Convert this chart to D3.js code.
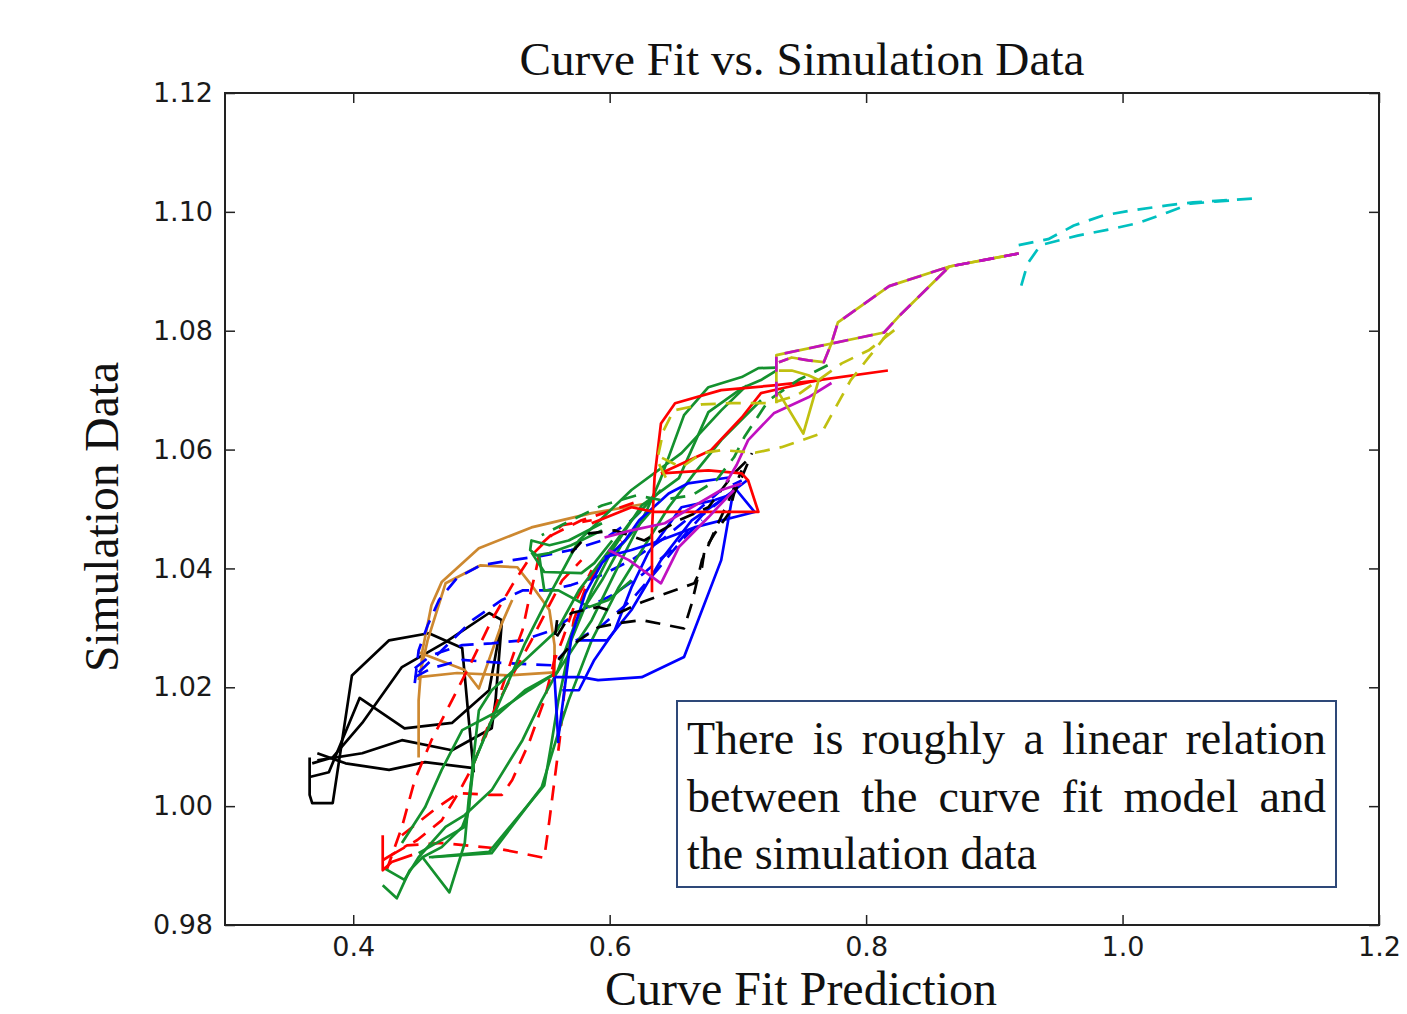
<!DOCTYPE html>
<html><head><meta charset="utf-8">
<script src="https://cdn.jsdelivr.net/npm/d3@7"></script>
<style>body{margin:0;background:#fff;} svg{display:block;}</style>
</head><body>
<svg id="chart" width="1407" height="1014"></svg>
<script>
// ---------------- data (x = curve fit prediction, y = simulation data) ----------------
const xTicks = [0.4, 0.6, 0.8, 1.0, 1.2];
const yTicks = [0.98, 1.00, 1.02, 1.04, 1.06, 1.08, 1.10, 1.12];

const cyanA = [[0.919,1.0944],[0.942,1.0954],[0.962,1.0977],[0.985,1.0994],[1.009,1.1003],[1.035,1.1011],[1.055,1.1016],[1.106,1.1023]];
const cyanB = [[0.921,1.0876],[0.926,1.0913],[0.936,1.0944],[0.965,1.0960],[0.991,1.0971],[1.012,1.0981],[1.035,1.0999],[1.053,1.1014],[1.084,1.1019]];

const topA = [[0.919,1.0930],[0.865,1.0908],[0.818,1.0875],[0.778,1.0814],[0.773,1.0779],[0.767,1.0747],[0.755,1.0750],[0.742,1.0755],[0.732,1.0747]];
const topB = [[0.919,1.0930],[0.865,1.0908],[0.825,1.0823],[0.814,1.0797],[0.730,1.0759],[0.730,1.0678]];
const yellowLoop = [[0.732,1.0695],[0.751,1.0627],[0.763,1.0717],[0.755,1.0725],[0.742,1.0733],[0.732,1.0733]];
const yellowDashA = [[0.822,1.0801],[0.802,1.0767],[0.781,1.0745],[0.763,1.0717],[0.746,1.0691],[0.726,1.0678],[0.695,1.0678],[0.672,1.0676],[0.650,1.0666],[0.642,1.0632],[0.637,1.0582],[0.644,1.0552]];
const yellowDashB = [[0.817,1.0796],[0.802,1.0755],[0.788,1.0717],[0.775,1.0666],[0.765,1.0627],[0.734,1.0604],[0.714,1.0595],[0.687,1.0599],[0.672,1.0594],[0.656,1.0570],[0.637,1.0590]];

const greenDash = [[0.770,1.0742],[0.747,1.0717],[0.724,1.0683],[0.705,1.0621],[0.697,1.0587],[0.683,1.0548],[0.664,1.0523],[0.640,1.0515],[0.621,1.0523],[0.594,1.0506],[0.570,1.0481],[0.547,1.0456]];

const redA = [[0.633,1.0360],[0.633,1.0464],[0.635,1.0553],[0.640,1.0644],[0.651,1.0678],[0.687,1.0700],[0.728,1.0708],[0.765,1.0717]];
const redB = [[0.640,1.0560],[0.679,1.0599],[0.703,1.0654],[0.718,1.0695],[0.763,1.0717],[0.817,1.0733]];
const redLoop = [[0.586,1.0476],[0.617,1.0503],[0.635,1.0495],[0.674,1.0495],[0.716,1.0495],[0.708,1.0548],[0.703,1.0560],[0.677,1.0565],[0.640,1.0560]];
const redLow = [[0.423,0.9951],[0.423,0.9892],[0.430,0.9906],[0.446,0.9918]];
const redSpike = [[0.556,1.0217],[0.557,1.0254]];

const magA = [[0.773,1.0712],[0.755,1.0688],[0.728,1.0661],[0.708,1.0616],[0.699,1.0574],[0.691,1.0545]];
const magB = [[0.596,1.0452],[0.617,1.0464],[0.643,1.0476],[0.687,1.0532],[0.703,1.0543]];
const magC = [[0.599,1.0431],[0.615,1.0414],[0.640,1.0375],[0.654,1.0436],[0.677,1.0486],[0.697,1.0532]];

const blueA = [[0.560,1.0106],[0.557,1.0217],[0.578,1.0217],[0.591,1.0212],[0.625,1.0217],[0.658,1.0251],[0.687,1.0414],[0.697,1.0537],[0.713,1.0495],[0.666,1.0469],[0.633,1.0442],[0.617,1.0431],[0.596,1.0419]];
const blueB = [[0.563,1.0195],[0.576,1.0195],[0.588,1.0246],[0.604,1.0296],[0.617,1.0368],[0.630,1.0426],[0.656,1.0503],[0.682,1.0515],[0.697,1.0526]];
const blueC = [[0.560,1.0116],[0.570,1.0284],[0.581,1.0358],[0.594,1.0409],[0.612,1.0447],[0.623,1.0481],[0.646,1.0526],[0.661,1.0543],[0.693,1.0553]];
const blueD = [[0.574,1.0279],[0.598,1.0279],[0.617,1.0330],[0.640,1.0414],[0.664,1.0481],[0.687,1.0515],[0.707,1.0548]];

const blueDashA = [[0.448,1.0207],[0.451,1.0262],[0.458,1.0304],[0.467,1.0347],[0.481,1.0384],[0.499,1.0405],[0.524,1.0414],[0.547,1.0421],[0.570,1.0431],[0.594,1.0447],[0.617,1.0481],[0.633,1.0515]];
const blueDashB = [[0.448,1.0217],[0.461,1.0232],[0.485,1.0246],[0.516,1.0241],[0.555,1.0237],[0.574,1.0279],[0.594,1.0304],[0.617,1.0347],[0.637,1.0397],[0.656,1.0447],[0.672,1.0481]];
const blueDashC = [[0.448,1.0232],[0.461,1.0254],[0.485,1.0271],[0.508,1.0274],[0.532,1.0279],[0.555,1.0296],[0.578,1.0330],[0.602,1.0355],[0.625,1.0389],[0.648,1.0431],[0.672,1.0489],[0.687,1.0515]];
const blueDashD = [[0.451,1.0225],[0.469,1.0262],[0.493,1.0313],[0.516,1.0347],[0.532,1.0363],[0.551,1.0363],[0.570,1.0372],[0.594,1.0389],[0.617,1.0414],[0.640,1.0447],[0.664,1.0489],[0.687,1.0532],[0.703,1.0548]];

const blackA = [[0.366,1.0082],[0.366,1.0019],[0.368,1.0005],[0.384,1.0005],[0.399,1.0220],[0.428,1.0279],[0.459,1.0291],[0.485,1.0266],[0.490,1.0148],[0.494,1.0057]];
const blackB = [[0.366,1.0049],[0.381,1.0057],[0.405,1.0182],[0.440,1.0131],[0.477,1.0140],[0.506,1.0195],[0.516,1.0313]];
const blackC = [[0.368,1.0072],[0.384,1.0082],[0.407,1.0140],[0.438,1.0234],[0.472,1.0276],[0.506,1.0325],[0.516,1.0313],[0.511,1.0178],[0.508,1.0131],[0.477,1.0094],[0.438,1.0111],[0.407,1.0089],[0.372,1.0077]];
const blackD = [[0.372,1.0089],[0.394,1.0072],[0.428,1.0061],[0.456,1.0074],[0.494,1.0064]];

const blackDashA = [[0.559,1.0313],[0.557,1.0279],[0.570,1.0325],[0.591,1.0335],[0.607,1.0325],[0.625,1.0343],[0.640,1.0355],[0.666,1.0375],[0.672,1.0402],[0.674,1.0431],[0.682,1.0459],[0.693,1.0493],[0.697,1.0526],[0.703,1.0553],[0.711,1.0594]];
const blackDashB = [[0.560,1.0246],[0.568,1.0267],[0.591,1.0301],[0.607,1.0308],[0.625,1.0313],[0.658,1.0299],[0.664,1.0341],[0.672,1.0414],[0.682,1.0464],[0.693,1.0515],[0.703,1.0565]];
const blackDashC = [[0.570,1.0426],[0.584,1.0459],[0.604,1.0464],[0.627,1.0447],[0.654,1.0481],[0.677,1.0503],[0.697,1.0560],[0.711,1.0590]];

const orangeA = [[0.451,1.0082],[0.451,1.0178],[0.454,1.0262],[0.461,1.0338],[0.469,1.0377],[0.498,1.0434],[0.539,1.0469],[0.586,1.0493],[0.631,1.0510]];
const orangeB = [[0.451,1.0212],[0.458,1.0279],[0.472,1.0375],[0.499,1.0405],[0.528,1.0402],[0.539,1.0372],[0.553,1.0330],[0.557,1.0271],[0.557,1.0225],[0.521,1.0220],[0.481,1.0224],[0.451,1.0217]];
const orangeC = [[0.451,1.0259],[0.487,1.0229],[0.498,1.0198],[0.516,1.0308],[0.524,1.0347]];

const greenA = [[0.423,0.9867],[0.434,0.9845],[0.444,0.9892],[0.454,0.9914],[0.469,0.9931],[0.485,0.9965],[0.490,0.9993],[0.493,1.0066],[0.498,1.0161],[0.508,1.0195],[0.534,1.0246],[0.559,1.0296],[0.576,1.0363],[0.594,1.0414],[0.617,1.0481],[0.640,1.0532]];
const greenB = [[0.423,0.9897],[0.440,0.9876],[0.451,0.9914],[0.472,0.9965],[0.487,0.9985],[0.508,1.0027],[0.532,1.0111],[0.547,1.0178],[0.559,1.0225],[0.574,1.0313],[0.594,1.0380],[0.609,1.0439],[0.633,1.0498]];
const greenC = [[0.454,0.9914],[0.475,0.9855],[0.487,0.9938],[0.490,1.0010],[0.494,1.0072],[0.508,1.0145],[0.534,1.0195],[0.559,1.0225]];
const greenD = [[0.459,0.9914],[0.506,0.9923],[0.549,1.0035],[0.555,1.0111],[0.560,1.0178],[0.570,1.0279],[0.586,1.0363],[0.602,1.0431],[0.625,1.0506],[0.654,1.0552],[0.677,1.0663],[0.703,1.0703],[0.718,1.0717],[0.730,1.0733]];
const greenE = [[0.438,0.9938],[0.456,0.9998],[0.469,1.0061],[0.485,1.0128],[0.514,1.0161],[0.537,1.0195],[0.559,1.0225],[0.586,1.0313],[0.609,1.0414],[0.629,1.0498],[0.640,1.0552],[0.658,1.0658],[0.677,1.0705],[0.703,1.0722],[0.716,1.0737],[0.730,1.0738]];
const greenF = [[0.594,1.0476],[0.568,1.0447],[0.553,1.0439],[0.539,1.0447],[0.538,1.0431],[0.543,1.0422],[0.553,1.0426],[0.570,1.0439],[0.594,1.0464]];
const greenG = [[0.539,1.0427],[0.549,1.0394],[0.578,1.0392],[0.588,1.0409],[0.602,1.0447]];
const greenH = [[0.545,1.0422],[0.549,1.0363],[0.560,1.0363],[0.584,1.0335],[0.599,1.0347],[0.617,1.0380]];
const greenI = [[0.451,0.9921],[0.487,0.9965],[0.490,0.9993],[0.494,1.0072],[0.508,1.0145],[0.534,1.0274],[0.555,1.0363],[0.576,1.0447],[0.617,1.0532],[0.656,1.0594],[0.687,1.0666],[0.707,1.0708]];
const greenJ = [[0.461,0.9914],[0.508,0.9921],[0.547,1.0032],[0.563,1.0145],[0.568,1.0178],[0.586,1.0279],[0.607,1.0368],[0.646,1.0503],[0.666,1.0560],[0.687,1.0616],[0.718,1.0683]];

const redDashA = [[0.423,0.9909],[0.442,0.9934],[0.469,0.9938],[0.512,0.9929],[0.549,0.9913],[0.553,0.9976],[0.557,1.0044],[0.561,1.0111],[0.564,1.0178],[0.567,1.0246],[0.572,1.0313],[0.582,1.0372],[0.594,1.0414],[0.609,1.0447]];
const redDashB = [[0.426,0.9892],[0.438,0.9965],[0.448,1.0044],[0.461,1.0111],[0.477,1.0178],[0.493,1.0246],[0.508,1.0313],[0.524,1.0372],[0.539,1.0422],[0.555,1.0456],[0.578,1.0481],[0.602,1.0498],[0.625,1.0515]];
const redDashC = [[0.430,0.9918],[0.450,0.9943],[0.469,0.9976],[0.482,1.0022],[0.493,1.0066],[0.503,1.0123],[0.512,1.0170],[0.524,1.0220],[0.539,1.0279],[0.551,1.0330],[0.563,1.0380],[0.578,1.0414]];
const redDashD = [[0.438,0.9951],[0.465,0.9997],[0.482,1.0022],[0.506,1.0019],[0.516,1.0019],[0.524,1.0044],[0.537,1.0106],[0.549,1.0178],[0.557,1.0246],[0.563,1.0279],[0.574,1.0347],[0.586,1.0397]];
const redDashE = [[0.503,1.0116],[0.518,1.0212],[0.526,1.0262],[0.532,1.0296],[0.537,1.0347],[0.542,1.0392],[0.547,1.0442],[0.563,1.0473],[0.586,1.0481]];

const titleText = "Curve Fit vs. Simulation Data";
const xLabelText = "Curve Fit Prediction";
const yLabelText = "Simulation Data";
const noteLines = ["There is roughly a linear relation", "between the curve fit model and", "the simulation data"];

// ---------------- styles ----------------
const COL = {k:"#000000", b:"#0000ff", g:"#14912e", r:"#ff0000", c:"#00c0c0", m:"#c010c0", y:"#c0c010", o:"#cd8830"};
const series = [
  [blackA,"k",0],[blackB,"k",0],[blackC,"k",0],[blackD,"k",0],
  [orangeA,"o",0],[orangeB,"o",0],[orangeC,"o",0],
  [blueDashA,"b",1],[blueDashB,"b",1],[blueDashC,"b",1],[blueDashD,"b",1],
  [redDashA,"r",1],[redDashB,"r",1],[redDashC,"r",1],[redDashD,"r",1],[redDashE,"r",1],
  [greenA,"g",0],[greenB,"g",0],[greenC,"g",0],[greenD,"g",0],[greenE,"g",0],[greenF,"g",0],[greenG,"g",0],[greenH,"g",0],[greenI,"g",0],[greenJ,"g",0],
  [blueA,"b",0],[blueB,"b",0],[blueC,"b",0],[blueD,"b",0],
  [blackDashA,"k",1],[blackDashB,"k",1],[blackDashC,"k",1],
  [redA,"r",0],[redB,"r",0],[redLoop,"r",0],[redLow,"r",0],[redSpike,"r",0],
  [magA,"m",0],[magB,"m",0],[magC,"m",0],
  [greenDash,"g",1],
  [yellowDashA,"y",1],[yellowDashB,"y",1],
  [topA,"y",0],[topB,"y",0],[yellowLoop,"y",0],
  [topA,"m",1],[topB,"m",1],
  [cyanA,"c",1],[cyanB,"c",1]
];

// ---------------- drawing ----------------
const svg = d3.select("#chart");
const L = 225, R = 1379, T = 93, B = 925;
const x = d3.scaleLinear().domain([0.3, 1.2]).range([L, R]);
const y = d3.scaleLinear().domain([0.98, 1.12]).range([B, T]);
const serif = "'Liberation Serif', 'Times New Roman', serif";
const sans = "'DejaVu Sans', sans-serif";

const line = d3.line().x(d => x(d[0])).y(d => y(d[1]));
const gLines = svg.append("g");
series.forEach(([data, c, dashed]) => {
  gLines.append("path").datum(data).attr("d", line)
    .attr("fill", "none").attr("stroke", COL[c]).attr("stroke-width", 2.7)
    .attr("stroke-linejoin", "round")
    .attr("stroke-dasharray", dashed ? "15,10" : null);
});

// axes (ticks inward on all four sides)
const tickFmt = d3.format(".2f");
const axB = d3.axisBottom(x).tickValues(xTicks).tickSize(-10).tickPadding(10).tickFormat(d3.format(".1f"));
const axT = d3.axisTop(x).tickValues(xTicks).tickSize(-10).tickFormat("");
const axLft = d3.axisLeft(y).tickValues(yTicks).tickSize(-10).tickPadding(12).tickFormat(tickFmt);
const axRt = d3.axisRight(y).tickValues(yTicks).tickSize(-10).tickFormat("");
function styleAxis(g) {
  g.select(".domain").remove();
  g.selectAll(".tick line").attr("stroke", "#222").attr("stroke-width", 1.5);
  g.selectAll(".tick text").attr("fill", "#1a1a1a").style("font-family", sans).style("font-size", "27px");
}
svg.append("g").attr("transform", `translate(0,${B})`).call(axB).call(styleAxis)
   .selectAll(".tick text").attr("dy", "0.76em");
svg.append("g").attr("transform", `translate(0,${T})`).call(axT).call(styleAxis);
svg.append("g").attr("transform", `translate(${L},0)`).call(axLft).call(styleAxis);
svg.append("g").attr("transform", `translate(${R},0)`).call(axRt).call(styleAxis);
svg.append("rect").attr("x", L).attr("y", T).attr("width", R - L).attr("height", B - T)
   .attr("fill", "none").attr("stroke", "#222").attr("stroke-width", 2);

// text fitted to target widths
function fitText(sel, target, base) {
  sel.style("font-size", base + "px");
  const w = sel.node().getComputedTextLength();
  sel.style("font-size", (base * target / w).toFixed(2) + "px");
}
const title = svg.append("text").attr("x", (L + R) / 2).attr("y", 75).attr("text-anchor", "middle")
  .style("font-family", serif).attr("fill", "#111").text(titleText);
fitText(title, 565, 44);
const xl = svg.append("text").attr("x", 801).attr("y", 1005).attr("text-anchor", "middle")
  .style("font-family", serif).attr("fill", "#111").text(xLabelText);
fitText(xl, 392, 44);
const yl = svg.append("text").attr("transform", "translate(118,517) rotate(-90)").attr("text-anchor", "middle")
  .style("font-family", serif).attr("fill", "#111").text(yLabelText);
fitText(yl, 310, 44);

// annotation box
const bx0 = 677, by0 = 701, bx1 = 1336, by1 = 887;
svg.append("rect").attr("x", bx0).attr("y", by0).attr("width", bx1 - bx0).attr("height", by1 - by0)
  .attr("fill", "#fff").attr("stroke", "#2e4878").attr("stroke-width", 2);
const noteFs = 46, tx0 = 687, tx1 = 1326, baseY = [754, 812, 869];
noteLines.forEach((t, i) => {
  const el = svg.append("text").attr("x", tx0).attr("y", baseY[i]).style("font-family", serif)
    .style("font-size", noteFs + "px").attr("fill", "#111").text(t);
  if (i < noteLines.length - 1) {
    const w = el.node().getComputedTextLength();
    const nSp = t.split(" ").length - 1;
    el.style("word-spacing", ((tx1 - tx0 - w) / nSp).toFixed(2) + "px");
  }
});
</script>
</body></html>
